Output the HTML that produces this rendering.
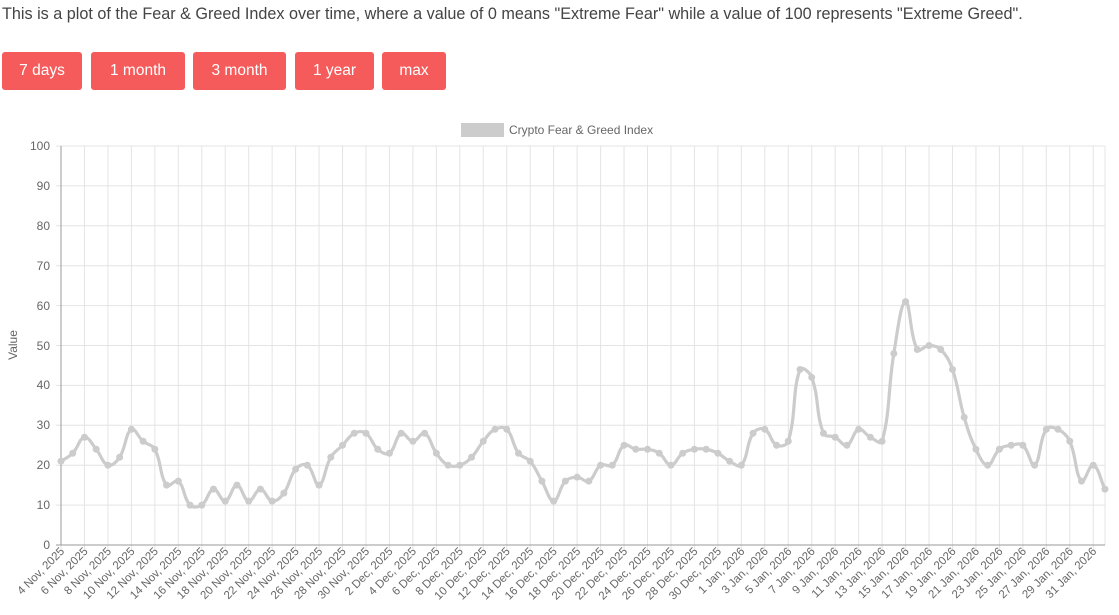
<!DOCTYPE html>
<html><head><meta charset="utf-8"><style>
body{margin:0;background:#fff;width:1119px;height:615px;overflow:hidden;font-family:"Liberation Sans",sans-serif;}
.intro{position:absolute;left:2px;top:5px;font-size:16.2px;color:#444;white-space:nowrap;}
.btn{position:absolute;top:52px;height:38px;background:#f65b5b;color:#fff;border-radius:3px;font-size:15.5px;line-height:38px;text-align:center;}
svg{position:absolute;left:0;top:0}
</style></head><body>
<div class="intro">This is a plot of the Fear &amp; Greed Index over time, where a value of 0 means "Extreme Fear" while a value of 100 represents "Extreme Greed".</div>
<div class="btn" style="left:2px;width:80px">7 days</div>
<div class="btn" style="left:91px;width:94px">1 month</div>
<div class="btn" style="left:193px;width:93px">3 month</div>
<div class="btn" style="left:295px;width:79px">1 year</div>
<div class="btn" style="left:382px;width:64px">max</div>
<svg width="1119" height="615" font-family="Liberation Sans, sans-serif">
<rect x="461" y="123" width="43" height="14" fill="#ccc"/>
<text x="509" y="134" font-size="12" fill="#666">Crypto Fear &amp; Greed Index</text>
<g id="grid" stroke="#e4e4e4" stroke-width="1"></g>
<line x1="61" y1="146" x2="61" y2="545" stroke="#999"/>
<line x1="56" y1="545" x2="1105" y2="545" stroke="#999"/>
<g font-size="12" fill="#666" text-anchor="end">
<text x="50" y="150">100</text><text x="50" y="190">90</text><text x="50" y="230">80</text><text x="50" y="270">70</text><text x="50" y="310">60</text><text x="50" y="350">50</text><text x="50" y="389">40</text><text x="50" y="429">30</text><text x="50" y="469">20</text><text x="50" y="509">10</text><text x="50" y="549">0</text>
</g>
<text transform="translate(17,345) rotate(-90)" font-size="12" fill="#666" text-anchor="middle">Value</text>
<g font-size="11.5" fill="#666" text-anchor="end">
<text transform="translate(65,552) rotate(-45)">4 Nov, 2025</text>
<text transform="translate(88.5,552) rotate(-45)">6 Nov, 2025</text>
<text transform="translate(111.9,552) rotate(-45)">8 Nov, 2025</text>
<text transform="translate(135.4,552) rotate(-45)">10 Nov, 2025</text>
<text transform="translate(158.8,552) rotate(-45)">12 Nov, 2025</text>
<text transform="translate(182.3,552) rotate(-45)">14 Nov, 2025</text>
<text transform="translate(205.8,552) rotate(-45)">16 Nov, 2025</text>
<text transform="translate(229.2,552) rotate(-45)">18 Nov, 2025</text>
<text transform="translate(252.7,552) rotate(-45)">20 Nov, 2025</text>
<text transform="translate(276.1,552) rotate(-45)">22 Nov, 2025</text>
<text transform="translate(299.6,552) rotate(-45)">24 Nov, 2025</text>
<text transform="translate(323.1,552) rotate(-45)">26 Nov, 2025</text>
<text transform="translate(346.5,552) rotate(-45)">28 Nov, 2025</text>
<text transform="translate(370,552) rotate(-45)">30 Nov, 2025</text>
<text transform="translate(393.4,552) rotate(-45)">2 Dec, 2025</text>
<text transform="translate(416.9,552) rotate(-45)">4 Dec, 2025</text>
<text transform="translate(440.4,552) rotate(-45)">6 Dec, 2025</text>
<text transform="translate(463.8,552) rotate(-45)">8 Dec, 2025</text>
<text transform="translate(487.3,552) rotate(-45)">10 Dec, 2025</text>
<text transform="translate(510.7,552) rotate(-45)">12 Dec, 2025</text>
<text transform="translate(534.2,552) rotate(-45)">14 Dec, 2025</text>
<text transform="translate(557.7,552) rotate(-45)">16 Dec, 2025</text>
<text transform="translate(581.1,552) rotate(-45)">18 Dec, 2025</text>
<text transform="translate(604.6,552) rotate(-45)">20 Dec, 2025</text>
<text transform="translate(628,552) rotate(-45)">22 Dec, 2025</text>
<text transform="translate(651.5,552) rotate(-45)">24 Dec, 2025</text>
<text transform="translate(675,552) rotate(-45)">26 Dec, 2025</text>
<text transform="translate(698.4,552) rotate(-45)">28 Dec, 2025</text>
<text transform="translate(721.9,552) rotate(-45)">30 Dec, 2025</text>
<text transform="translate(745.3,552) rotate(-45)">1 Jan, 2026</text>
<text transform="translate(768.8,552) rotate(-45)">3 Jan, 2026</text>
<text transform="translate(792.3,552) rotate(-45)">5 Jan, 2026</text>
<text transform="translate(815.7,552) rotate(-45)">7 Jan, 2026</text>
<text transform="translate(839.2,552) rotate(-45)">9 Jan, 2026</text>
<text transform="translate(862.6,552) rotate(-45)">11 Jan, 2026</text>
<text transform="translate(886.1,552) rotate(-45)">13 Jan, 2026</text>
<text transform="translate(909.6,552) rotate(-45)">15 Jan, 2026</text>
<text transform="translate(933,552) rotate(-45)">17 Jan, 2026</text>
<text transform="translate(956.5,552) rotate(-45)">19 Jan, 2026</text>
<text transform="translate(979.9,552) rotate(-45)">21 Jan, 2026</text>
<text transform="translate(1003.4,552) rotate(-45)">23 Jan, 2026</text>
<text transform="translate(1026.9,552) rotate(-45)">25 Jan, 2026</text>
<text transform="translate(1050.3,552) rotate(-45)">27 Jan, 2026</text>
<text transform="translate(1073.8,552) rotate(-45)">29 Jan, 2026</text>
<text transform="translate(1097.2,552) rotate(-45)">31 Jan, 2026</text>
</g>
<path id="line" fill="none" stroke="#cccccc" stroke-width="3.2"/>
<g id="pts" fill="#cccccc"></g>
</svg>
<script>
var v=[21,23,27,24,20,22,29,26,24,15,16,10,10,14,11,15,11,14,11,13,19,20,15,22,25,28,28,
24,23,28,26,28,23,20,20,22,26,29,29,23,21,16,11,16,17,16,20,20,25,24,24,23,20,23,24,24,23,21,
20,28,29,25,26,44,42,28,27,25,29,27,26,48,61,49,50,49,44,32,24,20,24,25,25,20,29,29,26,16,20,14];
var dx=11.73;
var g=document.getElementById('grid'),s='';
for(var i=0;i<=88;i+=2){var x=61+i*dx;s+='<line x1="'+x+'" y1="146" x2="'+x+'" y2="550"/>';}
s+='<line x1="1105" y1="146" x2="1105" y2="545"/>';
for(var k=1;k<=10;k++){var y=545-k*39.9;s+='<line x1="56" y1="'+y+'" x2="1105" y2="'+y+'"/>';}
g.innerHTML=s;
var P=v.map(function(a,i){return [61+i*dx,545-a*3.99];});
var C=P.map(function(c,i){var p=P[Math.max(i-1,0)],n=P[Math.min(i+1,P.length-1)];
var d01=Math.hypot(c[0]-p[0],c[1]-p[1]),d12=Math.hypot(n[0]-c[0],n[1]-c[1]);
var s01=d01/(d01+d12)||0,s12=d12/(d01+d12)||0,fa=0.4*s01,fb=0.4*s12;
return {p:[c[0]-fa*(n[0]-p[0]),c[1]-fa*(n[1]-p[1])],n:[c[0]+fb*(n[0]-p[0]),c[1]+fb*(n[1]-p[1])]};});
var d='M'+P[0][0]+','+P[0][1];
for(var i=1;i<P.length;i++){d+=' C'+C[i-1].n[0]+','+C[i-1].n[1]+' '+C[i].p[0]+','+C[i].p[1]+' '+P[i][0]+','+P[i][1];}
document.getElementById('line').setAttribute('d',d);
var pt='';P.forEach(function(c){pt+='<circle cx="'+c[0]+'" cy="'+c[1]+'" r="3.5"/>';});
document.getElementById('pts').innerHTML=pt;
</script>
</body></html>
